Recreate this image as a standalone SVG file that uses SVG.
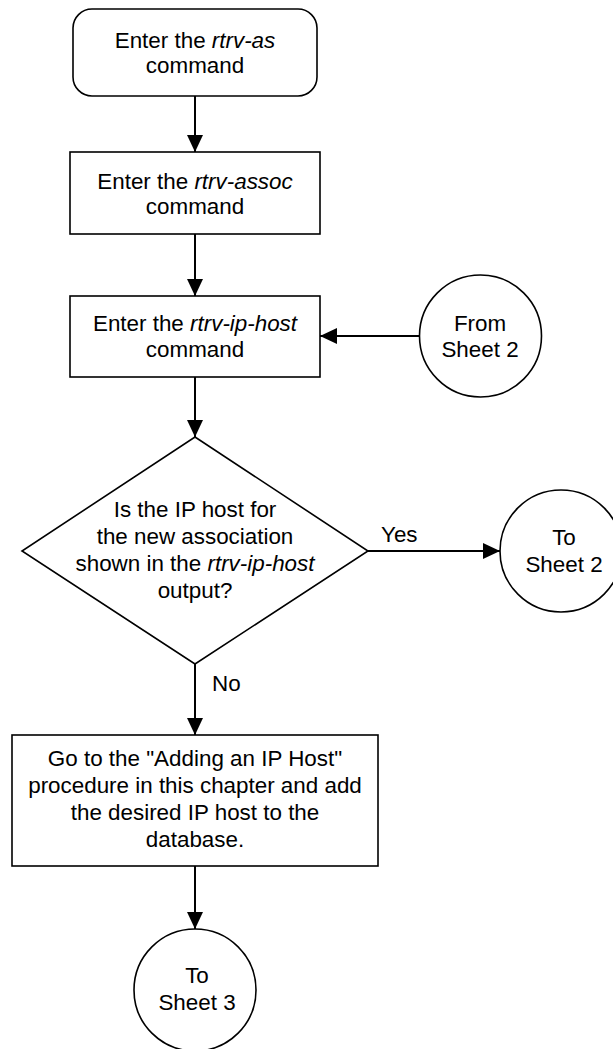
<svg xmlns="http://www.w3.org/2000/svg" width="613" height="1049" viewBox="0 0 613 1049">
  <style>
    .shape { fill: #ffffff; stroke: #000000; stroke-width: 1.6; }
    .conn { fill: none; stroke: #000000; stroke-width: 2; }
    .t { font-family: "Liberation Sans", Arial, sans-serif; font-size: 22.4px; fill: #000000; text-anchor: middle; }
    .l { font-family: "Liberation Sans", Arial, sans-serif; font-size: 22.4px; fill: #000000; }
    .i { font-style: italic; }
  </style>
  <defs>
    <marker id="arrow" markerUnits="userSpaceOnUse" markerWidth="18" markerHeight="18" viewBox="0 0 18 18" refX="17" refY="9" orient="auto">
      <path d="M0,1 L17,9 L0,17 Z" fill="#000000"/>
    </marker>
  </defs>

  <g id="connectors">
    <line class="conn" x1="195" y1="96" x2="195" y2="152" marker-end="url(#arrow)"/>
    <line class="conn" x1="195" y1="234" x2="195" y2="296" marker-end="url(#arrow)"/>
    <line class="conn" x1="419" y1="336" x2="320" y2="336" marker-end="url(#arrow)"/>
    <line class="conn" x1="195" y1="377" x2="195" y2="437" marker-end="url(#arrow)"/>
    <line class="conn" x1="368" y1="551" x2="500" y2="551" marker-end="url(#arrow)"/>
    <line class="conn" x1="195" y1="664" x2="195" y2="735" marker-end="url(#arrow)"/>
    <line class="conn" x1="195" y1="866" x2="195" y2="929" marker-end="url(#arrow)"/>
    <text class="l" x="381" y="542">Yes</text>
    <text class="l" x="212" y="691">No</text>
  </g>

  <g id="start">
    <rect class="shape" x="73" y="9" width="244" height="87" rx="19" ry="19"/>
    <text class="t" x="195" y="48">Enter the <tspan class="i">rtrv-as</tspan></text>
    <text class="t" x="195" y="73">command</text>
  </g>

  <g id="rtrv-assoc">
    <rect class="shape" x="70" y="152" width="250" height="82"/>
    <text class="t" x="195" y="189">Enter the <tspan class="i">rtrv-assoc</tspan></text>
    <text class="t" x="195" y="214">command</text>
  </g>

  <g id="rtrv-ip-host">
    <rect class="shape" x="70" y="296" width="250" height="81"/>
    <text class="t" x="195" y="331">Enter the <tspan class="i">rtrv-ip-host</tspan></text>
    <text class="t" x="195" y="357">command</text>
  </g>

  <g id="from-sheet-2">
    <circle class="shape" cx="480.5" cy="336" r="61"/>
    <text class="t" x="480" y="331">From</text>
    <text class="t" x="480" y="357">Sheet 2</text>
  </g>

  <g id="decision">
    <polygon class="shape" points="195,437 368,551 195,664 22,551"/>
    <text class="t" x="195" y="517">Is the IP host for</text>
    <text class="t" x="195" y="544">the new association</text>
    <text class="t" x="195" y="571">shown in the <tspan class="i">rtrv-ip-host</tspan></text>
    <text class="t" x="195" y="598">output?</text>
  </g>

  <g id="to-sheet-2">
    <circle class="shape" cx="561" cy="551" r="61"/>
    <text class="t" x="564" y="545">To</text>
    <text class="t" x="564" y="572">Sheet 2</text>
  </g>

  <g id="add-ip-host">
    <rect class="shape" x="12" y="735" width="366" height="131"/>
    <text class="t" x="195" y="766">Go to the "Adding an IP Host"</text>
    <text class="t" x="195" y="793">procedure in this chapter and add</text>
    <text class="t" x="195" y="820">the desired IP host to the</text>
    <text class="t" x="195" y="847">database.</text>
  </g>

  <g id="to-sheet-3">
    <circle class="shape" cx="195" cy="990" r="61"/>
    <text class="t" x="197" y="983">To</text>
    <text class="t" x="197" y="1010">Sheet 3</text>
  </g>
</svg>
